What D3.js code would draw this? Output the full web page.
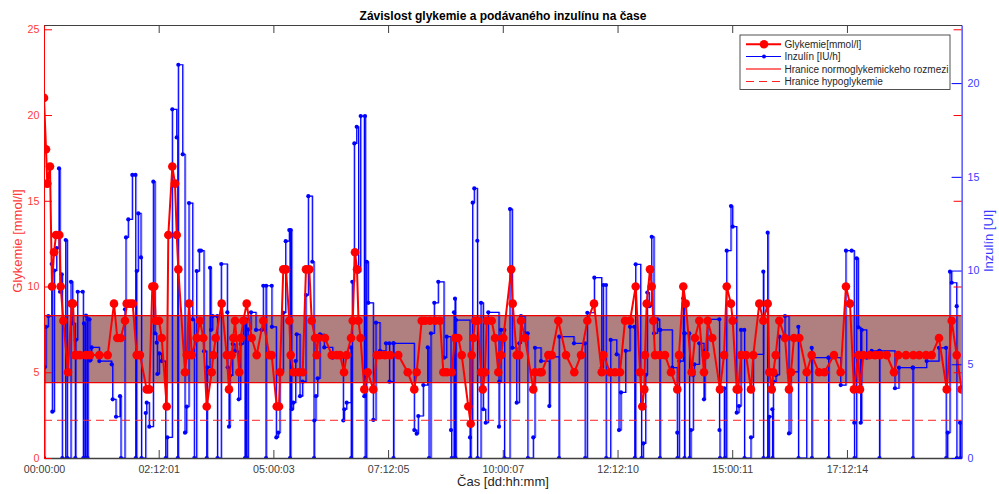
<!DOCTYPE html>
<html><head><meta charset="utf-8">
<script src="https://cdn.jsdelivr.net/npm/d3@7"></script>
<style>body{margin:0;background:#fff} text{font-family:"Liberation Sans",Arial,Helvetica,sans-serif}</style>
</head><body><svg id="c" width="999" height="494"></svg>
<script>
// ---- data (time in days from start) ----
const glyTime=[0.000,0.044,0.072,0.131,0.174,0.218,0.262,0.334,0.364,0.421,0.523,0.604,0.632,0.676,0.713,0.785,0.916,1.003,1.206,1.389,1.526,1.598,1.673,1.766,1.803,1.875,1.934,2.021,2.093,2.240,2.296,2.362,2.405,2.436,2.508,2.567,2.676,2.711,2.798,2.857,2.894,2.929,3.075,3.112,3.162,3.221,3.330,3.402,3.474,3.548,3.657,3.692,3.744,3.875,3.984,4.034,4.093,4.128,4.165,4.259,4.289,4.346,4.420,4.529,4.638,4.782,4.913,4.965,5.075,5.125,5.146,5.218,5.277,5.349,5.380,5.436,5.546,5.641,5.713,5.785,5.838,5.910,5.947,5.982,6.128,6.274,6.383,6.455,6.542,6.601,6.695,6.732,6.782,6.826,6.858,6.902,6.985,7.059,7.181,7.255,7.327,7.436,7.545,7.726,7.931,8.075,8.127,8.236,8.308,8.417,8.527,8.636,8.708,8.782,8.891,8.963,9.035,9.109,9.253,9.305,9.327,9.362,9.399,9.458,9.530,9.567,9.617,9.654,9.763,9.835,9.907,9.966,10.016,10.188,10.221,10.308,10.365,10.402,10.489,10.670,10.707,10.816,10.853,10.997,11.071,11.215,11.383,11.564,11.710,11.848,11.994,12.162,12.197,12.343,12.452,12.561,12.670,12.779,12.903,12.997,13.047,13.091,13.106,13.143,13.215,13.252,13.287,13.324,13.433,13.542,13.673,13.810,13.847,13.941,13.993,14.124,14.196,14.290,14.392,14.429,14.473,14.573,14.741,14.829,14.888,14.981,15.018,15.106,15.141,15.200,15.309,15.417,15.468,15.599,15.686,15.781,15.816,15.869,15.904,15.956,16.035,16.159,16.246,16.290,16.355,16.471,16.632,16.741,16.900,17.020,17.227,17.373,17.488,17.576,17.663,17.757,17.794,17.866,17.997,18.121,18.230,18.376,18.535,18.629,18.797,18.957,19.088,19.234,19.358,19.517,19.685,19.794,19.903,20.010];
const glyValue=[21,18,16,17,10,12,13,13,10,8,5,9,9,6,6,6,6,6,6,6,9,7,7,8,9,9,9,6,6,4,4,10,10,8,8,7,3,13,17,16,13,11,5,6,9,6,7,8,7,3,5,6,7,9,6,4,6,7,8,5,7,8,9,7,6,8,6,6,3,3,5,11,11,8,6,5,5,5,11,11,8,7,6,7,7,6,6,6,5,6,7,8,12,11,8,7,4,5,4,6,6,6,6,6,5,4,5,8,8,8,8,8,5,5,5,7,7,6,3,2,6,7,8,8,5,4,5,8,8,7,5,6,7,11,9,6,6,8,7,4,5,5,5,6,6,8,6,5,6,8,9,5,6,5,5,5,8,8,10,5,3,4,6,9,11,10,8,6,6,6,5,4,6,10,9,5,7,8,5,6,8,7,4,6,10,9,8,4,4,6,6,4,6,9,8,9,5,4,5,6,8,7,4,5,7,7,5,6,5,5,6,5,10,9,4,6,4,6,6,6,6,6,5,6,6,6,6,6,6,7,4,8,6,4];
const insTime=[0.000,0.015,0.044,0.094,0.168,0.181,0.225,0.277,0.327,0.349,0.386,0.399,0.473,0.508,0.589,0.626,0.683,0.691,0.735,0.844,0.857,0.872,0.905,0.916,0.950,0.960,0.992,1.003,1.040,1.206,1.476,1.498,1.570,1.657,1.679,1.766,1.788,1.838,1.926,1.995,2.000,2.021,2.056,2.115,2.126,2.218,2.240,2.296,2.384,2.421,2.458,2.471,2.514,2.567,2.654,2.689,2.798,2.894,2.916,2.929,3.025,3.075,3.112,3.162,3.243,3.278,3.330,3.387,3.424,3.489,3.548,3.561,3.620,3.642,3.679,3.779,3.783,3.866,3.997,4.006,4.034,4.056,4.115,4.165,4.246,4.289,4.346,4.383,4.405,4.420,4.455,4.514,4.623,4.747,4.782,4.841,4.845,4.966,4.970,5.066,5.109,5.146,5.218,5.271,5.349,5.364,5.380,5.402,5.437,5.489,5.511,5.583,5.641,5.713,5.764,5.851,5.888,5.894,5.931,5.969,6.019,6.112,6.296,6.527,6.549,6.601,6.695,6.699,6.723,6.767,6.819,6.860,6.906,6.985,7.000,7.004,7.037,7.072,7.181,7.240,7.327,7.458,7.530,7.534,7.617,7.621,7.625,8.075,8.127,8.162,8.271,8.367,8.396,8.439,8.511,8.598,8.723,8.781,8.875,8.890,8.941,8.952,8.963,8.974,8.985,9.290,9.294,9.311,9.348,9.383,9.449,9.453,9.530,9.580,9.632,9.689,9.922,9.926,9.966,10.038,10.042,10.162,10.212,10.308,10.365,10.402,10.489,10.548,10.552,10.670,10.707,10.838,11.019,11.034,11.230,11.235,11.557,11.797,11.801,11.848,12.001,12.162,12.197,12.256,12.260,12.358,12.489,12.539,12.583,12.685,12.779,12.873,12.882,12.903,13.012,13.030,13.069,13.121,13.156,13.200,13.252,13.302,13.374,13.426,13.430,13.437,13.701,13.810,13.814,13.854,13.941,13.963,13.967,13.972,14.072,14.076,14.109,14.159,14.181,14.290,14.392,14.414,14.473,14.726,14.730,14.741,14.835,14.850,14.888,14.981,15.018,15.106,15.156,15.200,15.271,15.276,15.417,15.468,15.686,15.690,15.781,15.788,15.816,15.882,15.886,15.904,15.963,16.035,16.159,16.246,16.290,16.449,16.453,16.632,16.741,16.745,16.749,17.105,17.109,17.113,17.373,17.488,17.613,17.669,17.674,17.722,17.757,17.809,17.831,17.940,18.049,18.215,18.219,18.223,18.557,18.644,18.943,18.948,18.952,19.248,19.517,19.669,19.674,19.706,19.757,19.794,19.903,19.907,19.975,19.986,19.997];
const insValue=[0,4.84,7.0,7.57,10.35,2.47,10.0,11.2,15.45,8.87,9.8,0,11.63,0,9.4,7.18,0,6.3,8.87,8.87,0,7.18,0,7.6,0,7.4,7.4,5.2,5.9,5.17,5.0,3.13,2.2,3.3,0,7.93,11.77,12.73,15.1,15.1,0,9.97,13.05,10.7,0,2.4,2.95,1.67,14.74,6.65,6.15,4.48,5.58,5.17,0,1.1,18.6,17.1,0,20.98,16.2,1.35,2.74,13.6,7.4,0,9.97,11.06,11.06,5.7,0,4.84,10.15,6.83,7.57,7.57,0,10.35,7.77,4.84,1.67,4.4,6.08,5.7,3.13,6.08,7.4,0,7.4,0,6.86,7.77,6.83,6.83,9.19,0,9.19,9.19,7.0,1.1,1.35,4.6,7.75,11.57,12.16,0,12.16,2.6,2.95,5.17,6.6,3.3,4.07,8.69,13.97,10.47,0,2.0,3.3,4.25,6.6,5.9,5.35,2.0,2.6,2.95,5.9,0,9.4,16.78,17.67,9.94,18.24,3.3,18.24,0,10.47,8.28,2.03,7.22,5.72,6.12,6.12,4.07,6.12,0,6.12,1.49,1.3,2.24,3.89,5.9,0,6.65,8.28,9.4,5.35,6.47,1.49,0,7.77,0,8.5,0,7.36,1.1,0,1.88,13.62,14.38,11.59,0,8.28,2.6,1.88,7.77,1.67,4.07,6.83,6.83,0,13.28,5.88,2.95,6.12,7.57,6.65,6.65,0,1.1,5.88,5.17,2.77,5.4,0,6.47,6.12,6.12,0,7.75,9.62,4.82,9.23,9.23,0,6.3,5.53,1.49,3.5,5.72,7.0,7.0,0,10.33,2.77,0,0.78,4.43,8.83,8.1,11.8,6.65,7.4,6.83,0,6.83,4.82,1.35,0,5.17,8.52,6.65,0,6.65,6.65,0,1.49,4.43,5.0,6.12,3.13,5.72,7.4,7.4,1.49,0,3.72,0,11.06,13.44,12.34,2.42,2.77,6.83,6.83,0,1.1,5.53,9.94,0,12.02,0,2.2,2.6,0,4.07,4.43,6.47,7.57,1.31,4.6,7.0,0,4.6,5.88,0,5.35,5.35,0,5.35,3.89,11.06,11.06,1.88,0,10.65,6.97,1.88,6.83,5.35,5.72,5.72,0,5.72,3.72,4.82,4.82,0,4.82,5.17,5.88,5.88,0,1.35,9.94,9.35,8.1,0,1.88,0,1.9];
const xTickLabels=["00:00:00","02:12:01","05:00:03","07:12:05","10:00:07","12:12:10","15:00:11","17:12:14"];
const leftTicks=[0,5,10,15,20,25];
const rightTicks=[0,5,10,15,20];
const normoLow=4.4, normoHigh=8.3, hypoLimit=2.2;
const xMax=20.01, leftMax=25.25, rightMax=23.1;
const legendLabels=["Glykemie[mmol/l]","Inzulín [IU/h]","Hranice normoglykemickeho rozmezi","Hranice hypoglykemie"];

// ---- layout ----
const L=44, R=961.6, T=25, B=458;
const svg=d3.select("#c");
const x=d3.scaleLinear().domain([0,xMax]).range([L,R]);
const yL=d3.scaleLinear().domain([0,leftMax]).range([B,T]);
const yR=d3.scaleLinear().domain([0,rightMax]).range([B,T]);
const parseTick=s=>{const p=s.split(":").map(Number);return p[0]+p[1]/24+p[2]/1440;};
const xTickVals=xTickLabels.map(parseTick);

svg.append("defs").append("clipPath").attr("id","clip").append("rect")
  .attr("x",L).attr("y",T).attr("width",R-L).attr("height",B-T);
const plot=svg.append("g").attr("clip-path","url(#clip)");

// normoglycemic band
plot.append("rect").attr("x",L).attr("width",R-L)
  .attr("y",yL(normoHigh)).attr("height",yL(normoLow)-yL(normoHigh))
  .attr("fill","#b08080");
// insulin stairs
const insData=insTime.map((t,i)=>[t,insValue[i]]);
plot.append("path").datum(insData)
  .attr("d",d3.line().x(d=>x(d[0])+1).y(d=>yR(d[1])).curve(d3.curveStepAfter))
  .attr("fill","none").attr("stroke","#0000ff").attr("stroke-opacity",0.3).attr("stroke-width",1);
plot.append("path").datum(insData)
  .attr("d",d3.line().x(d=>x(d[0])).y(d=>yR(d[1])).curve(d3.curveStepAfter))
  .attr("fill","none").attr("stroke","#0000ff").attr("stroke-width",1.2);
plot.selectAll(".ins").data(insData).join("circle")
  .attr("cx",d=>x(d[0])).attr("cy",d=>yR(d[1])).attr("r",2.1).attr("fill","#0000ff");

// limits
[normoLow,normoHigh].forEach(v=>plot.append("line").attr("x1",L).attr("x2",R)
  .attr("y1",yL(v)).attr("y2",yL(v)).attr("stroke","#ee0000").attr("stroke-width",1.2));
plot.append("line").attr("x1",L).attr("x2",R).attr("y1",yL(hypoLimit)).attr("y2",yL(hypoLimit))
  .attr("stroke","#ff2020").attr("stroke-width",1).attr("stroke-dasharray","8,5");

// glycemia
const glyData=glyTime.map((t,i)=>[t,glyValue[i]]);
plot.append("path").datum(glyData)
  .attr("d",d3.line().x(d=>x(d[0])).y(d=>yL(d[1])))
  .attr("fill","none").attr("stroke","#ff0000").attr("stroke-width",2);
plot.selectAll(".gly").data(glyData).join("circle")
  .attr("cx",d=>x(d[0])).attr("cy",d=>yL(d[1])).attr("r",4.3).attr("fill","#ff0000");

// ---- axes ----
function style(g,color,fs){g.select(".domain").attr("stroke",color);g.selectAll(".tick line").attr("stroke",color);
  g.selectAll("text").attr("fill",color).style("font-size",fs+"px").style("font-family",'"Liberation Sans",Arial,sans-serif');}
const gray="#404040";
svg.append("g").attr("transform",`translate(0,${B})`)
  .call(d3.axisBottom(x).tickValues(xTickVals).tickFormat((d,i)=>xTickLabels[i]).tickSizeInner(-8).tickSizeOuter(0).tickPadding(7))
  .call(g=>style(g,gray,10.7)).call(g=>g.select(".domain").attr("stroke-width",1.5));
svg.append("g").attr("transform",`translate(0,${T})`)
  .call(d3.axisTop(x).tickValues(xTickVals).tickFormat("").tickSizeInner(-8).tickSizeOuter(0))
  .call(g=>style(g,gray,10.7));
svg.append("g").attr("transform",`translate(${L},0)`)
  .call(d3.axisLeft(yL).tickValues(leftTicks).tickSizeInner(-8).tickSizeOuter(0).tickPadding(4.5))
  .call(g=>style(g,"#ff0000",10.7)).call(g=>g.selectAll("text").attr("fill","#ff3a3a"));
svg.append("g").attr("transform",`translate(${R},0)`)
  .call(d3.axisLeft(yL).tickValues(leftTicks).tickFormat("").tickSizeInner(8).tickSizeOuter(0))
  .call(g=>style(g,"#ff0000",10.7)).call(g=>g.select(".domain").remove());
svg.append("g").attr("transform",`translate(${R},0)`)
  .call(d3.axisRight(yR).tickValues(rightTicks).tickSizeInner(-10).tickSizeOuter(0).tickPadding(6))
  .call(g=>style(g,"#0000ff",10.7)).call(g=>g.selectAll("text").attr("fill","#3a3aff"));

// labels
svg.append("text").attr("x",503).attr("y",20).attr("text-anchor","middle")
  .style("font-size","12px").style("font-weight","bold").attr("fill","#000").text("Závislost glykemie a podávaného inzulínu na čase");
svg.append("text").attr("x",503).attr("y",486).attr("text-anchor","middle")
  .style("font-size","13px").attr("fill","#262626").text("Čas [dd:hh:mm]");
svg.append("text").attr("transform","translate(22,241) rotate(-90)").attr("text-anchor","middle")
  .style("font-size","13px").attr("fill","#ff3a3a").text("Glykemie [mmol/l]");
svg.append("text").attr("transform","translate(993,241) rotate(-90)").attr("text-anchor","middle")
  .style("font-size","13px").attr("fill","#3a3aff").text("Inzulín [UI]");

// legend
const lg=svg.append("g");
lg.append("rect").attr("x",740).attr("y",35).attr("width",210).attr("height",54.5)
  .attr("fill","#fff").attr("stroke","#262626").attr("stroke-width",0.8);
const rows=[44.3,56.5,69,81.5];
const styles=[{c:"#ff0000",w:2,m:4.3},{c:"#0000ff",w:1.2,m:2},{c:"#ff7070",w:2,m:0},{c:"#ff2020",w:1,m:0,dash:"8,5"}];
legendLabels.forEach((lab,i)=>{
  const s=styles[i];
  lg.append("line").attr("x1",746).attr("x2",781).attr("y1",rows[i]).attr("y2",rows[i])
    .attr("stroke",s.c).attr("stroke-width",s.w).attr("stroke-dasharray",s.dash||null);
  if(s.m) lg.append("circle").attr("cx",764).attr("cy",rows[i]).attr("r",s.m).attr("fill",s.c);
  lg.append("text").attr("x",784.5).attr("y",rows[i]+3.6).style("font-size","10px").attr("fill","#262626").text(lab);
});
</script></body></html>
